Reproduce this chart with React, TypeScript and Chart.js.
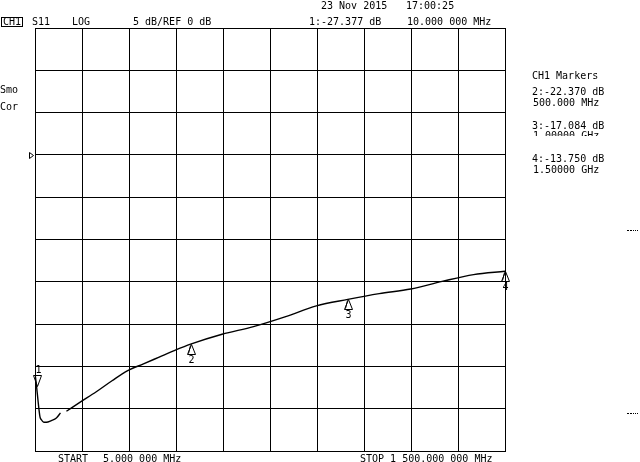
import React, { useEffect, useRef } from "react";
import { Chart, registerables } from "chart.js";

Chart.register(...registerables);

// Trace data (S11, LOG magnitude)
const freqMHz = [5, 10, 12, 14.5, 17.7, 21, 25, 33, 41, 57, 73, 86, 95, 105, 150, 200, 250, 300, 350, 400, 450, 500, 600, 700, 800, 900, 1000, 1100, 1200, 1300, 1400, 1500];
const s11dB = [-25.8, -27.38, -28.1, -29.0, -30.1, -31.0, -31.3, -31.6, -31.6, -31.4, -31.1, -30.5, null, -30.3, -29.2, -28.0, -26.7, -25.5, -24.7, -23.9, -23.1, -22.37, -21.2, -20.3, -19.15, -17.85, -17.084, -16.4, -15.85, -14.95, -14.15, -13.75];

// Markers
const markerFreqs = [10, 500, 1000, 1500];
const markerDb = [-27.377, -22.37, -17.084, -13.75];
const markerFreqLabels = ["10.000 000 MHz", "500.000 MHz", "1.00000 GHz", "1.50000 GHz"];

// Scale settings
const startMHz = 5;
const stopMHz = 1500;
const refDb = 0;
const dbPerDiv = 5;
const refDiv = 7; // divisions below reference line
const yDivs = 10;
const xDivs = 10;

const FONT = '10px "DejaVu Sans Mono", "Liberation Mono", monospace';

const overlayPlugin = {
  id: "overlay",
  afterDraw(chart: any) {
    const ctx = chart.ctx as CanvasRenderingContext2D;
    const xs = chart.scales.x;
    const ys = chart.scales.y;
    ctx.save();
    ctx.fillStyle = "#000";
    ctx.strokeStyle = "#000";
    ctx.font = FONT;
    ctx.textBaseline = "middle";
    ctx.textAlign = "left";
    const t = (s: string, x: number, y: number) => ctx.fillText(s, x, y);

    // header
    t("23 Nov 2015", 321, 6.5);
    t("17:00:25", 406, 6.5);
    ctx.lineWidth = 1;
    ctx.strokeRect(1.5, 17.5, 21, 9);
    t("CH1", 3, 22.5);
    t("S11", 32, 22.5);
    t("LOG", 72, 22.5);
    t(`${dbPerDiv} dB/REF ${refDb} dB`, 133, 22.5);
    t(`1:${markerDb[0].toFixed(3)} dB`, 309, 22.5);
    t(markerFreqLabels[0], 407, 22.5);

    t("Smo", 0, 90.5);
    t("Cor", 0, 107.5);

    // marker list
    t("CH1 Markers", 532, 76);
    const listY = [92.5, 126, 159.5];
    for (let i = 1; i < markerDb.length; i++) {
      const y = listY[i - 1];
      t(`${i + 1}:${markerDb[i].toFixed(3)} dB`, 532, y);
      if (i === 2) {
        ctx.save();
        ctx.beginPath();
        ctx.rect(520, y + 4, 120, 6);
        ctx.clip();
        t(markerFreqLabels[i], 533, y + 10.5);
        ctx.restore();
      } else {
        t(markerFreqLabels[i], 533, y + 10.5);
      }
    }

    // footer
    t("START", 58, 459);
    t("5.000 000 MHz", 103, 459);
    t("STOP 1 500.000 000 MHz", 360, 459);

    // right-edge dash marks
    for (const yy of [230, 413]) {
      ctx.fillRect(627, yy, 2, 1);
      ctx.fillRect(630, yy, 2, 1);
      ctx.fillRect(633, yy, 1, 1);
      ctx.fillRect(635, yy, 1, 1);
      ctx.fillRect(637, yy, 1, 1);
    }

    // reference position marker
    const ry = Math.round(ys.getPixelForValue(refDb)) + 0.5;
    ctx.beginPath();
    ctx.moveTo(29.5, ry - 3);
    ctx.lineTo(33.5, ry);
    ctx.lineTo(29.5, ry + 3);
    ctx.closePath();
    ctx.stroke();

    // trace markers
    ctx.textAlign = "center";
    for (let i = 0; i < markerFreqs.length; i++) {
      const px = Math.round(xs.getPixelForValue(markerFreqs[i])) + 0.5;
      const py = Math.round(ys.getPixelForValue(markerDb[i])) + 0.5;
      ctx.beginPath();
      if (i === 0) {
        ctx.moveTo(px - 4, py - 12);
        ctx.lineTo(px + 4, py - 12);
        ctx.lineTo(px, py - 1);
        ctx.closePath();
        ctx.stroke();
        t(String(i + 1), px + 1, py - 17);
      } else {
        ctx.moveTo(px, py);
        ctx.lineTo(px - 4, py + 10);
        ctx.lineTo(px + 4, py + 10);
        ctx.closePath();
        ctx.stroke();
        ctx.beginPath();
        ctx.moveTo(px - 1, py + 1);
        ctx.lineTo(px - 3, py + 9);
        ctx.stroke();
        t(String(i + 1), px, py + 16);
      }
    }
    ctx.restore();
  },
};

export default function App() {
  const ref = useRef<HTMLCanvasElement | null>(null);
  useEffect(() => {
    if (!ref.current) return;
    const yMax = refDb + (yDivs - refDiv) * dbPerDiv;
    const yMin = refDb - refDiv * dbPerDiv;
    const chart = new Chart(ref.current, {
      type: "line",
      data: {
        labels: freqMHz,
        datasets: [
          {
            data: freqMHz.map((f, i) => ({ x: f, y: s11dB[i] as any })),
            borderColor: "#000",
            borderWidth: 1.4,
            pointRadius: 0,
            cubicInterpolationMode: "monotone",
            spanGaps: false,
            fill: false,
          },
        ],
      },
      options: {
        animation: false,
        responsive: false,
        maintainAspectRatio: false,
        events: [],
        layout: { padding: { left: 35, right: 135, top: 28, bottom: 11 } },
        plugins: { legend: { display: false }, tooltip: { enabled: false }, title: { display: false } },
        scales: {
          x: {
            type: "linear",
            min: startMHz,
            max: stopMHz,
            ticks: { display: false },
            grid: { color: "#000", lineWidth: 1, drawTicks: false },
            border: { display: true, color: "#000", width: 1 },
            afterBuildTicks: (s: any) => {
              s.ticks = Array.from({ length: xDivs + 1 }, (_, i) => ({ value: startMHz + (i * (stopMHz - startMHz)) / xDivs }));
            },
            afterFit: (s: any) => {
              s.height = 0;
            },
          },
          y: {
            type: "linear",
            min: yMin,
            max: yMax,
            ticks: { display: false },
            grid: { color: "#000", lineWidth: 1, drawTicks: false },
            border: { display: true, color: "#000", width: 1 },
            afterBuildTicks: (s: any) => {
              s.ticks = Array.from({ length: yDivs + 1 }, (_, i) => ({ value: yMin + i * dbPerDiv }));
            },
            afterFit: (s: any) => {
              s.width = 0;
            },
          },
        },
      },
      plugins: [overlayPlugin],
    });
    return () => chart.destroy();
  }, []);
  return (
    <div style={{ position: "fixed", left: 0, top: 0, width: 640, height: 462, background: "#fff" }}>
      <canvas ref={ref} width={640} height={462} style={{ display: "block" }} />
    </div>
  );
}
